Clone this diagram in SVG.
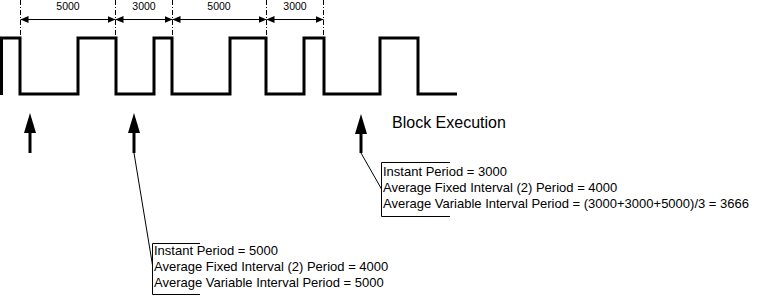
<svg xmlns="http://www.w3.org/2000/svg" width="760" height="296" viewBox="0 0 760 296">
<style>
.wave{fill:none;stroke:#000;stroke-width:3;stroke-linejoin:miter}
.ext{stroke:#000;stroke-width:1;stroke-dasharray:5,2,1,2}
.dim{stroke:#000;stroke-width:1}
.dl{font-family:"Liberation Sans",Arial,sans-serif;font-size:10.5px;fill:#000;text-anchor:middle}
.shaft{stroke:#000;stroke-width:3}
.lead{stroke:#000;stroke-width:1;fill:none}
.t{font-family:"Liberation Sans",Arial,sans-serif;font-size:13px;fill:#000}
.big{font-family:"Liberation Sans",Arial,sans-serif;font-size:16px;fill:#000}
</style>
<defs>
<marker id="ah" viewBox="0 0 8 7" refX="8" refY="3.5" markerWidth="8" markerHeight="7" markerUnits="userSpaceOnUse" orient="auto-start-reverse">
<path d="M0,0 L8,3.5 L0,7 Z" fill="#000"/>
</marker>
<path id="up" d="M0,0 L-6,20 L6,20 Z" fill="#000"/>
</defs>
<g id="signal">
<path class="wave" d="M1.5,95 V38 H20 V94 H78 V38 H116 V94 H154 V38 H172 V94 H230 V38 H266 V94 H304 V38 H324 V94 H380 V38 H418 V94 H457"/>
</g>
<g id="dimensions">
<line class="ext" x1="20.5" y1="0" x2="20.5" y2="38"/>
<line class="ext" x1="115.5" y1="0" x2="115.5" y2="38"/>
<line class="ext" x1="172.5" y1="0" x2="172.5" y2="38"/>
<line class="ext" x1="266.5" y1="0" x2="266.5" y2="38"/>
<line class="ext" x1="323.5" y1="0" x2="323.5" y2="38"/>
<line class="dim" x1="20.5" y1="19.5" x2="115.5" y2="19.5" marker-start="url(#ah)" marker-end="url(#ah)"/>
<line class="dim" x1="115.5" y1="19.5" x2="172.5" y2="19.5" marker-start="url(#ah)" marker-end="url(#ah)"/>
<line class="dim" x1="172.5" y1="19.5" x2="266.5" y2="19.5" marker-start="url(#ah)" marker-end="url(#ah)"/>
<line class="dim" x1="266.5" y1="19.5" x2="323.5" y2="19.5" marker-start="url(#ah)" marker-end="url(#ah)"/>
<text class="dl" x="68" y="10">5000</text>
<text class="dl" x="144" y="10">3000</text>
<text class="dl" x="219" y="10">5000</text>
<text class="dl" x="295" y="10">3000</text>
</g>
<g id="exec1">
<use href="#up" x="30" y="113"/>
<line class="shaft" x1="30" y1="132" x2="30" y2="153"/>
</g>
<g id="exec2">
<use href="#up" x="134" y="113"/>
<line class="shaft" x1="134" y1="132" x2="134" y2="153"/>
</g>
<g id="exec3">
<use href="#up" x="361" y="114"/>
<line class="shaft" x1="361" y1="133" x2="361" y2="153"/>
</g>
<g id="label-block">
<text class="big" x="392" y="128">Block Execution</text>
</g>
<g id="connectors">
<line class="lead" x1="134" y1="153" x2="152.5" y2="265"/>
<line class="lead" x1="361" y1="153" x2="381.5" y2="189"/>
</g>
<g id="callout1">
<path class="lead" d="M200,243.5 H152.5 V294.5 H200"/>
<text class="t" x="154" y="255">Instant Period = 5000</text>
<text class="t" x="154" y="271">Average Fixed Interval (2) Period = 4000</text>
<text class="t" x="154" y="287">Average Variable Interval Period = 5000</text>
</g>
<g id="callout2">
<path class="lead" d="M450,162.5 H381.5 V216.5 H450"/>
<text class="t" x="383" y="176">Instant Period = 3000</text>
<text class="t" x="383" y="192">Average Fixed Interval (2) Period = 4000</text>
<text class="t" x="383" y="208">Average Variable Interval Period = (3000+3000+5000)/3 = 3666</text>
</g>
</svg>
